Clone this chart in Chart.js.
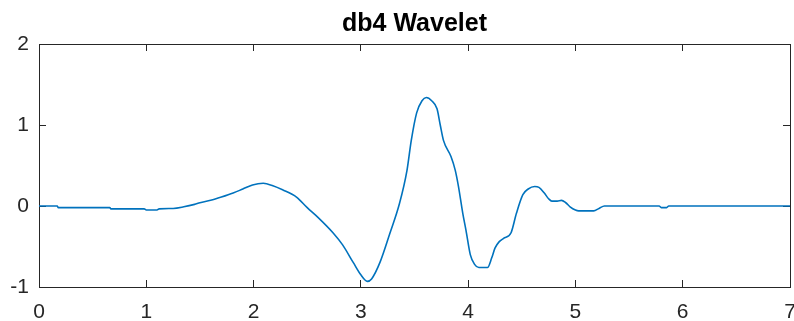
<!DOCTYPE html>
<html>
<head>
<meta charset="utf-8">
<script src="https://cdn.jsdelivr.net/npm/chart.js@4/dist/chart.umd.min.js"></script>
<style>
  html, body { margin: 0; padding: 0; background: #fff; }
  #wrap { width: 794px; height: 321px; }
</style>
</head>
<body>
<div id="wrap"><canvas id="waveChart" width="794" height="321"></canvas></div>
<script>
// db4 wavelet, values
const xs = [
  0, 0.17, 0.18, 0.66, 0.67, 0.98, 1.0, 1.1, 1.12, 1.25,
  1.35, 1.45, 1.5, 1.6, 1.7, 1.81, 1.9, 1.99, 2.09, 2.18,
  2.27, 2.4, 2.5, 2.6, 2.74, 2.83, 2.93, 3.0, 3.06, 3.1,
  3.18, 3.27, 3.36, 3.43, 3.47, 3.52, 3.57, 3.61, 3.66, 3.71,
  3.74, 3.77, 3.84, 3.88, 3.91, 3.95, 3.98, 4.02, 4.06, 4.1,
  4.18, 4.22, 4.25, 4.29, 4.33, 4.4, 4.45, 4.51, 4.56, 4.62,
  4.66, 4.71, 4.75, 4.78, 4.83, 4.87, 4.91, 4.95, 5.0, 5.03,
  5.17, 5.22, 5.27, 5.78, 5.8, 5.85, 5.87, 7
];
const ys = [
  0, 0, -0.02, -0.02, -0.035, -0.035, -0.05, -0.05, -0.035, -0.03,
  -0.01, 0.02, 0.04, 0.07, 0.11, 0.16, 0.21, 0.26, 0.28, 0.25,
  0.2, 0.11, -0.02, -0.14, -0.33, -0.48, -0.7, -0.85, -0.93, -0.9,
  -0.69, -0.34, 0.03, 0.44, 0.81, 1.15, 1.3, 1.34, 1.3, 1.2,
  1.0, 0.81, 0.61, 0.44, 0.24, -0.09, -0.3, -0.6, -0.72, -0.76,
  -0.76, -0.64, -0.52, -0.44, -0.4, -0.33, -0.09, 0.14, 0.21, 0.24,
  0.23, 0.16, 0.09, 0.06, 0.06, 0.07, 0.04, -0.01, -0.05, -0.06,
  -0.06, -0.03, 0, 0, -0.02, -0.02, 0, 0
];
const xTicks = [0, 1, 2, 3, 4, 5, 6, 7];
const yTicks = [-1, 0, 1, 2];

(() => {
  "use strict";

  const axisColor = `#262626`;
  const fontFamily = `"Liberation Sans", Arial, sans-serif`;
  const tickFont = { family: fontFamily, size: 21 };

  const points = xs.map((x, i) => ({ x: x, y: ys[i] }));

  // MATLAB-style box: ticks point inwards, no grid
  const boxGrid = {
    drawOnChartArea: false,
    drawTicks: true,
    tickLength: -7,
    tickColor: axisColor,
    lineWidth: 1,
  };
  const boxBorder = { display: true, color: axisColor, width: 1 };

  const fixSize = (w, h) => (scale) => {
    if (w !== null) scale.width = w;
    if (h !== null) scale.height = h;
    scale.paddingLeft = 0;
    scale.paddingRight = 0;
    scale.paddingTop = 0;
    scale.paddingBottom = 0;
  };

  const cfg = {
    type: `line`,
    data: {
      datasets: [
        {
          label: `db4`,
          data: points,
          borderColor: `#0072BD`,
          backgroundColor: `#0072BD`,
          borderWidth: 1.6,
          pointRadius: 0,
          fill: false,
          cubicInterpolationMode: `monotone`,
        },
      ],
    },
    options: {
      responsive: false,
      animation: false,
      layout: { padding: { left: 0, right: 4, top: 0, bottom: 0 } },
      plugins: {
        legend: { display: false },
        tooltip: { enabled: false },
        title: { display: false },
      },
      scales: {
        x: {
          type: `linear`,
          position: `bottom`,
          min: 0,
          max: 7,
          afterBuildTicks: (s) => { s.ticks = xTicks.map((v) => ({ value: v })); },
          ticks: { color: axisColor, font: tickFont, padding: 20, maxRotation: 0 },
          grid: boxGrid,
          border: boxBorder,
          afterFit: fixSize(null, 34),
        },
        // top axis carries the title so it is centred over the plot box
        x2: {
          type: `linear`,
          position: `top`,
          min: 0,
          max: 7,
          afterBuildTicks: (s) => { s.ticks = xTicks.map((v) => ({ value: v })); },
          ticks: { display: false },
          grid: boxGrid,
          border: boxBorder,
          title: {
            display: true,
            text: `db4 Wavelet`,
            color: `#000`,
            font: { family: fontFamily, size: 25, weight: `bold` },
            padding: { top: 9, bottom: 0 },
          },
          afterFit: fixSize(null, 44),
        },
        y: {
          type: `linear`,
          position: `left`,
          min: -1,
          max: 2,
          afterBuildTicks: (s) => { s.ticks = yTicks.map((v) => ({ value: v })); },
          ticks: { color: axisColor, font: tickFont, padding: 17 },
          grid: boxGrid,
          border: boxBorder,
          afterFit: fixSize(39, null),
        },
        y2: {
          type: `linear`,
          position: `right`,
          min: -1,
          max: 2,
          afterBuildTicks: (s) => { s.ticks = yTicks.map((v) => ({ value: v })); },
          ticks: { display: false },
          grid: boxGrid,
          border: boxBorder,
          afterFit: fixSize(0, null),
        },
      },
    },
  };

  new Chart(document.getElementById(`waveChart`), cfg);
})();
</script>
</body>
</html>
